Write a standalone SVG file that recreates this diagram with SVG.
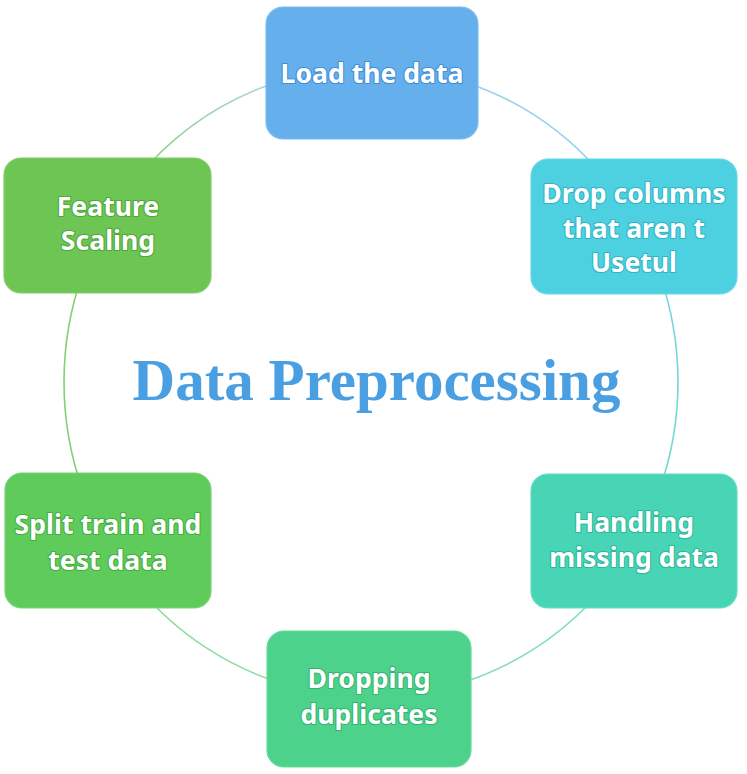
<svg xmlns="http://www.w3.org/2000/svg" width="747" height="774" viewBox="0 0 747 774">
<style>
.box{stroke-width:1.2;}
.lbl{font-family:"Noto Sans","Open Sans","DejaVu Sans",sans-serif;font-weight:700;font-size:26.6px;fill:#ffffff;text-anchor:middle;paint-order:stroke;stroke-width:2.2;stroke-linejoin:round;}
.arc{fill:none;stroke-width:1.6;opacity:0.85;}
.title{font-family:"Liberation Serif","Times New Roman",serif;font-weight:700;font-size:59px;fill:#4A9FE2;text-anchor:middle;}
</style>
<defs>
<linearGradient id="g1" gradientUnits="userSpaceOnUse" x1="466" y1="82" x2="599" y2="171"><stop offset="0" stop-color="#8cc6ee"/><stop offset="1" stop-color="#6fd2e2"/></linearGradient>
<linearGradient id="g2" gradientUnits="userSpaceOnUse" x1="660" y1="274" x2="660" y2="490"><stop offset="0" stop-color="#5fcfe0"/><stop offset="1" stop-color="#57d3bf"/></linearGradient>
<linearGradient id="g3" gradientUnits="userSpaceOnUse" x1="606" y1="584" x2="450" y2="686"><stop offset="0" stop-color="#6ed8c0"/><stop offset="1" stop-color="#72d89e"/></linearGradient>
<linearGradient id="g4" gradientUnits="userSpaceOnUse" x1="291" y1="686" x2="136" y2="584"><stop offset="0" stop-color="#7ed99f"/><stop offset="1" stop-color="#80d47c"/></linearGradient>
<linearGradient id="g5" gradientUnits="userSpaceOnUse" x1="82" y1="490" x2="82" y2="274"><stop offset="0" stop-color="#6acb62"/><stop offset="1" stop-color="#6cc658"/></linearGradient>
<linearGradient id="g6" gradientUnits="userSpaceOnUse" x1="136" y1="180" x2="276" y2="82"><stop offset="0" stop-color="#79c965"/><stop offset="1" stop-color="#9ccfe0"/></linearGradient>
</defs>
<rect width="747" height="774" fill="#ffffff"/>
<g id="connectors">
<path class="arc" stroke="url(#g1)" d="M465.9,82.4 A307,315 0 0 1 599.1,171.2"/>
<path class="arc" stroke="url(#g2)" d="M659.5,274.3 A307,315 0 0 1 659.5,489.7"/>
<path class="arc" stroke="url(#g3)" d="M606.2,584.5 A307,315 0 0 1 450.5,686.3"/>
<path class="arc" stroke="url(#g4)" d="M291.5,686.3 A307,315 0 0 1 135.8,584.5"/>
<path class="arc" stroke="url(#g5)" d="M82.5,489.7 A307,315 0 0 1 82.5,274.3"/>
<path class="arc" stroke="url(#g6)" d="M135.8,179.5 A307,315 0 0 1 276.1,82.4"/>
</g>
<text class="title" x="376.5" y="400">Data Preprocessing</text>
<g id="load">
<rect class="box" x="266" y="7" width="212" height="132" rx="17" fill="#64AFEC" stroke="#7cbcf0"/>
<text class="lbl" x="372" y="83" stroke="#3f8fd6">Load the data</text>
</g>
<g id="drop-columns">
<rect class="box" x="531" y="159" width="206" height="135" rx="17" fill="#4DD0E0" stroke="#69d8e6"/>
<text class="lbl" x="634" y="203" stroke="#2fb5c8">Drop columns</text>
<text class="lbl" x="634" y="238" stroke="#2fb5c8">that aren t</text>
<text class="lbl" x="634" y="272" stroke="#2fb5c8">Usetul</text>
</g>
<g id="feature-scaling">
<rect class="box" x="4" y="158" width="207" height="135" rx="17" fill="#6DC553" stroke="#82cd6b"/>
<text class="lbl" x="108" y="216" stroke="#4ea83a">Feature</text>
<text class="lbl" x="108" y="250" stroke="#4ea83a">Scaling</text>
</g>
<g id="handling-missing">
<rect class="box" x="531" y="474" width="206" height="134" rx="17" fill="#48D5B5" stroke="#64dcc1"/>
<text class="lbl" x="634" y="532" stroke="#2db898">Handling</text>
<text class="lbl" x="634" y="567" stroke="#2db898">missing data</text>
</g>
<g id="dropping-duplicates">
<rect class="box" x="267" y="631" width="204" height="136" rx="17" fill="#4DD28C" stroke="#69d99e"/>
<text class="lbl" x="369" y="688" stroke="#33b56f">Dropping</text>
<text class="lbl" x="369" y="724" stroke="#33b56f">duplicates</text>
</g>
<g id="split-data">
<rect class="box" x="5" y="473" width="206" height="135" rx="17" fill="#5ECB5A" stroke="#78d374"/>
<text class="lbl" x="108" y="534" stroke="#43ae40">Split train and</text>
<text class="lbl" x="108" y="570" stroke="#43ae40">test data</text>
</g>
</svg>
